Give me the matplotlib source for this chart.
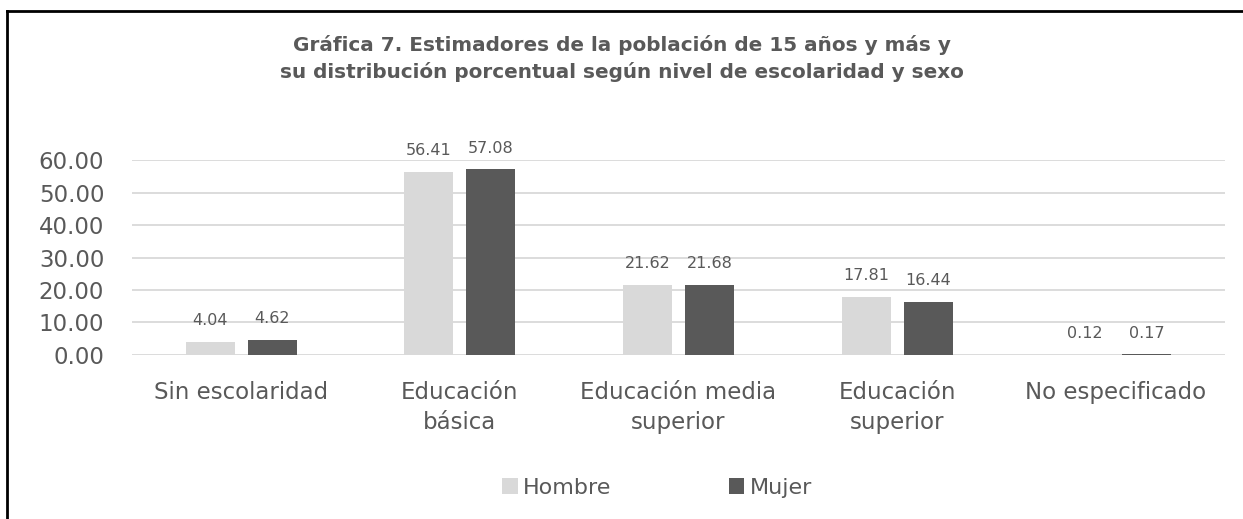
import matplotlib.pyplot as plt
import numpy as np
from matplotlib.lines import Line2D

categorias = ['Sin escolaridad', 'Educación\nbásica', 'Educación media\nsuperior',
              'Educación\nsuperior', 'No especificado']
hombre = [4.04, 56.41, 21.62, 17.81, 0.12]
mujer = [4.62, 57.08, 21.68, 16.44, 0.17]
yticks = [0, 10, 20, 30, 40, 50, 60]

gris_claro = '#d9d9d9'
gris_oscuro = '#595959'
texto = '#595959'

plt.rcParams['font.family'] = ['DejaVu Sans']

fig = plt.figure(figsize=(12.43, 5.19), dpi=100)
ax = fig.add_axes([0.1062, 0.316, 0.8793, 0.3757])

x = np.arange(len(categorias))
w = 0.224
off = 0.142
b1 = ax.bar(x - off, hombre, w, color=gris_claro, label='Hombre', zorder=2)
b2 = ax.bar(x + off, mujer, w, color=gris_oscuro, label='Mujer', zorder=2)

for bars in (b1, b2):
    ax.bar_label(bars, labels=[f'{v:.2f}' for v in bars.datavalues],
                 padding=10, fontsize=11.5, color=texto)

ax.set_xlim(-0.5, len(categorias) - 0.5)
ax.set_ylim(0, 60)
ax.set_yticks(yticks)
ax.set_yticklabels([f'{v:.2f}' for v in yticks], fontsize=16.5, color=texto)
ax.set_xticks(x)
ax.set_xticklabels(categorias, fontsize=16.5, color=texto, linespacing=1.38)
ax.tick_params(axis='y', length=0, pad=20)
ax.tick_params(axis='x', length=0, pad=19)
ax.grid(axis='y', color=gris_claro, linewidth=1.3, zorder=0)
for s in ax.spines.values():
    s.set_visible(False)

fig.text(0.5, 0.913, 'Gráfica 7. Estimadores de la población de 15 años y más y',
         ha='center', va='center', fontsize=14.4, fontweight='bold', color=texto)
fig.text(0.5, 0.861, 'su distribución porcentual según nivel de escolaridad y sexo',
         ha='center', va='center', fontsize=14.4, fontweight='bold', color=texto)

leg = fig.legend(loc='center', bbox_to_anchor=(0.5286, 0.0597), ncol=2, frameon=False,
                 fontsize=16, handlelength=0.7, handleheight=0.7, handletextpad=0.22,
                 columnspacing=5.3)
for t in leg.get_texts():
    t.set_color(texto)

# marco
fig.add_artist(Line2D([7 / 1243, 7 / 1243], [0, 1 - 11 / 519], color='black', lw=2,
                      transform=fig.transFigure))
fig.add_artist(Line2D([7 / 1243, 1], [1 - 11 / 519, 1 - 11 / 519], color='black', lw=2,
                      transform=fig.transFigure))

plt.savefig('out.png', dpi=100)
